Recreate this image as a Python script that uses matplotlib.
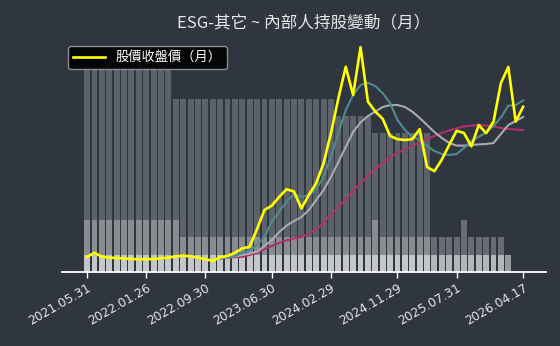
import numpy as np
import matplotlib
matplotlib.use("Agg")
import matplotlib.pyplot as plt

plt.rcParams["font.family"] = ["Noto Sans CJK TC", "DejaVu Sans"]

# ---------------------------------------------------------
# data (monthly, index 0 = 2021.05 ... 59 = 2026.04.17)
# ---------------------------------------------------------
tick_pos = [0, 8, 16, 25, 33, 42, 50, 59]
tick_labels = ["2021.05.31", "2022.01.26", "2022.09.30", "2023.06.30",
               "2024.02.29", "2024.11.29", "2025.07.31", "2026.04.17"]

# insider holding layers (overlapping bars)
hold_a = [12] * 12 + [10] * 22 + [9] * 5 + [8] * 8
hold_b = [3] * 13 + [2] * 26 + [3] + [2] * 11 + [3] + [2] * 5
hold_c = [1] * 58

price = [10.8, 11.8, 10.8, 10.6, 10.5, 10.4, 10.25, 10.2, 10.2, 10.25,
         10.4, 10.6, 10.9, 11.1, 10.9, 10.6, 10.2, 9.8, 10.7, 11.0,
         11.8, 12.9, 13.3, 17.75, 22.5, 23.6, 25.8, 27.7, 27.1, 22.9,
         26.25, 29.2, 34.2, 41.7, 50.4, 58.3, 51.25, 63.2, 49.6, 47.1,
         45.3, 41.0, 40.2, 40.0, 40.2, 42.7, 33.25, 32.2, 35.1, 38.75,
         42.3, 41.75, 38.4, 43.75, 41.7, 44.6, 54.25, 58.25, 44.6, 48.3]

ma_start = 18
ma_short = [10.5, 10.6, 11.0, 11.75, 12.5, 13.75, 15.8, 19.6, 22.1, 24.6,
            26.5, 25.8, 26.25, 27.7, 30.8, 35.8, 41.7, 47.5, 51.25, 53.75,
            54.3, 53.5, 51.7, 49.25, 45.0, 42.5, 40.8, 40.0, 38.5, 37.25,
            36.5, 36.25, 36.5, 38.0, 39.75, 40.8, 41.9, 43.5, 45.6, 48.6,
            48.75, 49.9]
ma_mid = [10.5, 10.6, 10.9, 11.25, 11.6, 12.1, 13.5, 15.0, 17.0, 18.6,
          19.75, 20.75, 22.5, 25.0, 27.5, 30.75, 34.5, 38.25, 42.0, 44.4,
          46.0, 47.1, 48.25, 48.7, 48.75, 48.25, 47.1, 45.5, 43.75, 42.0,
          40.5, 39.25, 38.6, 38.6, 38.75, 38.9, 39.0, 39.25, 41.5, 43.75,
          44.75, 45.75]
ma_long = [10.4, 10.5, 10.7, 10.8, 11.25, 11.8, 12.7, 13.5, 14.3, 14.9,
           15.4, 15.75, 16.5, 17.7, 19.25, 21.4, 23.25, 25.25, 27.25, 29.25,
           31.0, 32.75, 34.25, 35.75, 36.75, 37.6, 38.5, 39.5, 40.25, 41.0,
           41.75, 42.4, 42.9, 43.4, 43.6, 43.75, 43.6, 43.4, 43.0, 42.75,
           42.6, 42.5]

BG = "#2f3640"

fig = plt.figure(figsize=(5.6, 3.46), dpi=100, facecolor=BG)
ax = fig.add_axes([0.1107, 0.2139, 0.8643, 0.6705])
ax.set_facecolor(BG)

# bars
ax.bar(np.arange(len(hold_a)), hold_a, width=0.8, color="white", alpha=0.22, lw=0)
ax.bar(np.arange(len(hold_b)), hold_b, width=0.8, color="white", alpha=0.28, lw=0)
ax.bar(np.arange(len(hold_c)), hold_c, width=0.8, color="white", alpha=0.5, lw=0)
ax.set_ylim(0, 13.4)
ax.set_xlim(-3.4, 62.1)

# price lines
ax2 = ax.twinx()
x_ma = np.arange(ma_start, ma_start + len(ma_short))
ax2.plot(x_ma, ma_long, color="#b0306f", lw=1.5)
ax2.plot(x_ma, ma_mid, color="#a7abb1", lw=1.5)
ax2.plot(x_ma, ma_short, color="#4f8a8c", lw=1.5)
ax2.plot(np.arange(len(price)), price, color="#ffff00", lw=1.9,
         label="股價收盤價（月）")
ax2.set_ylim(7, 65)
ax2.set_xlim(-3.4, 62.1)

for a in (ax, ax2):
    for side in ("left", "right", "top"):
        a.spines[side].set_visible(False)
    a.set_yticks([])
ax.spines["bottom"].set_color("white")
ax.spines["bottom"].set_linewidth(1.3)
ax2.spines["bottom"].set_visible(False)

ax.set_xticks(tick_pos)
ax.set_xticklabels(tick_labels, rotation=30, ha="right",
                   rotation_mode="anchor", fontsize=8.8, color="#e6e6e6",
                   family="DejaVu Sans")
ax.tick_params(axis="x", colors="white", length=4, width=1, pad=3,
               labelcolor="#e6e6e6")

leg = ax2.legend(loc="upper left", fontsize=9.5, handlelength=2.4,
                 facecolor="black", edgecolor="#9a9a9a", framealpha=0.9,
                 borderaxespad=0.45)
for t in leg.get_texts():
    t.set_color("white")

fig.text(0.543, 0.935, "ESG-其它 ~ 內部人持股變動（月）", ha="center",
         va="center", fontsize=12, color="#e6e6e6")

fig.savefig("out.png", dpi=100, facecolor=BG)
